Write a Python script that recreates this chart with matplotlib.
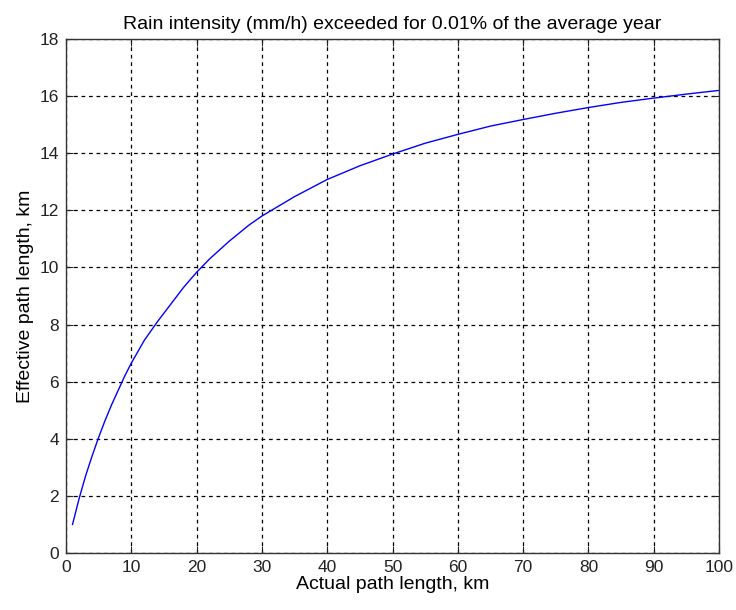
import matplotlib
matplotlib.use("Agg")
import matplotlib.pyplot as plt

actual_km = [1, 2, 3, 4, 5, 6, 7, 8, 9, 10, 12, 14, 16, 18, 20, 22, 25, 28, 30, 35,
             40, 45, 50, 55, 60, 65, 70, 75, 80, 85, 90, 95, 100]
effective_km = [1.0, 1.9, 2.7, 3.4, 4.05, 4.65, 5.2, 5.7, 6.2, 6.65, 7.45, 8.1, 8.7,
                9.3, 9.83, 10.3, 10.92, 11.48, 11.8, 12.48, 13.08, 13.56, 13.97, 14.35,
                14.66, 14.95, 15.18, 15.4, 15.6, 15.78, 15.93, 16.07, 16.2]
xticks = list(range(0, 101, 10))
yticks = list(range(0, 19, 2))

plt.rcParams['font.family'] = ['Liberation Sans', 'DejaVu Sans']
fig = plt.figure(figsize=(7.36, 6.10), dpi=100)
ax = fig.add_axes([66/736, 57/610, 653/736, 514/610])
ax.plot(actual_km, effective_km, color='#0000ff', lw=1)
ax.set_xlim(0, 100)
ax.set_ylim(0, 18)
ax.set_xticks(xticks)
ax.set_yticks(yticks)
ax.grid(True, color='black', linestyle=(0, (3, 3)), linewidth=0.9)
ax.tick_params(direction='in', length=5, top=True, right=True, labelsize=12.5,
               colors='#222222', pad=5)
for s in ax.spines.values():
    s.set_color('#333333')
    s.set_linewidth(1)
ax.set_title('Rain intensity (mm/h) exceeded for 0.01% of the average year', fontsize=14, pad=7)
ax.set_xlabel('Actual path length, km', fontsize=14, labelpad=1)
ax.set_ylabel('Effective path length, km', fontsize=14, labelpad=4)
fig.savefig('out.png', dpi=100)
